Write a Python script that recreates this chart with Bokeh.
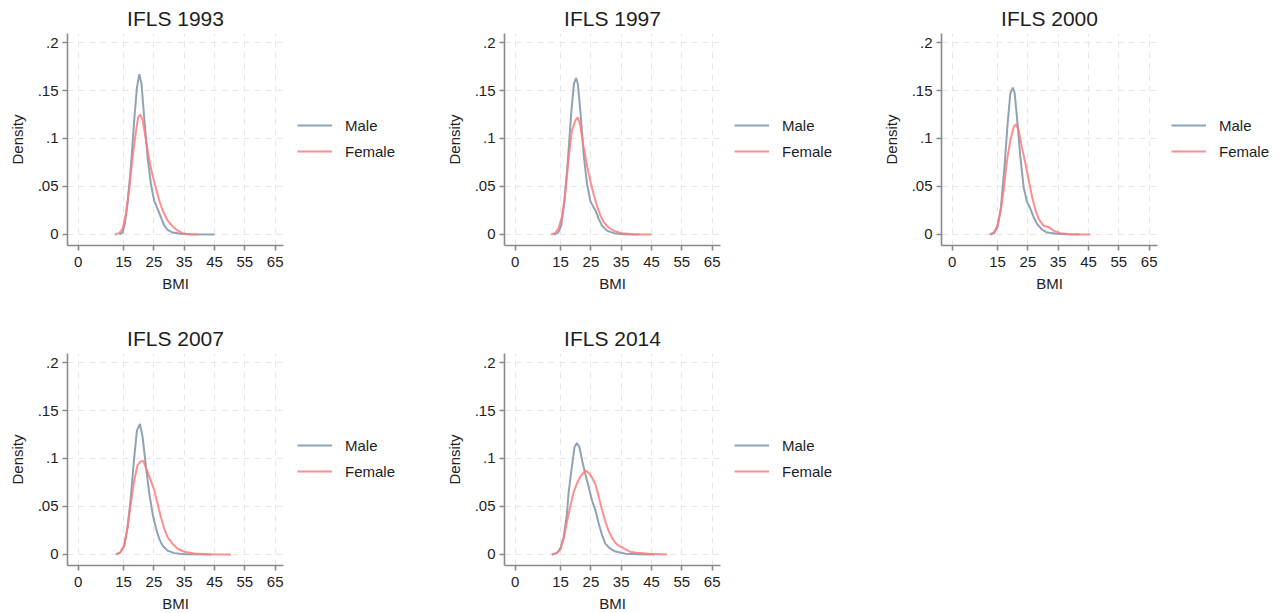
from bokeh.plotting import figure
from bokeh.layouts import row, column
from bokeh.models import FixedTicker, Legend, LegendItem, Range1d
from bokeh.embed import file_html
from bokeh.resources import INLINE

titles = ["IFLS 1993", "IFLS 1997", "IFLS 2000", "IFLS 2007", "IFLS 2014"]
series_names = ["Male", "Female"]
x_ticks = [0, 15, 25, 35, 45, 55, 65]
y_ticks = [0, 0.05, 0.1, 0.15, 0.2]
y_tick_labels = ["0", ".05", ".1", ".15", ".2"]

# ---- 1993 ----
bmi_male_1993 = [13.6, 14.7, 15.4, 16.3, 17.4, 18.5, 19.4, 20.2, 20.9, 21.8, 22.9, 24.0, 25.1, 26.2, 27.3, 28.4, 29.5, 31.2, 33.9, 37.2, 45.0]
dens_male_1993 = [0, 0.002, 0.011, 0.032, 0.070, 0.119, 0.153, 0.167, 0.157, 0.122, 0.081, 0.053, 0.035, 0.027, 0.018, 0.0094, 0.0049, 0.002, 0.0007, 0.0001, 0]
bmi_female_1993 = [12.1, 13.6, 14.7, 15.8, 16.9, 18.0, 19.1, 19.8, 20.5, 21.3, 22.4, 23.5, 24.6, 25.7, 26.8, 27.9, 29.5, 31.2, 32.8, 34.5, 36.1, 39.4]
dens_female_1993 = [0, 0.0014, 0.006, 0.022, 0.049, 0.081, 0.108, 0.122, 0.125, 0.119, 0.098, 0.077, 0.061, 0.048, 0.035, 0.025, 0.0146, 0.0083, 0.0042, 0.0014, 0.0003, 0]

# ---- 1997 ----
bmi_male_1997 = [12.7, 14.1, 15.2, 16.3, 17.4, 18.5, 19.4, 20.1, 20.7, 21.6, 22.6, 23.7, 24.8, 25.6, 26.5, 27.6, 28.7, 30.3, 32.5, 35.3, 41.0]
dens_male_1997 = [0, 0.0014, 0.009, 0.035, 0.077, 0.126, 0.157, 0.163, 0.157, 0.126, 0.084, 0.053, 0.035, 0.030, 0.025, 0.016, 0.009, 0.004, 0.0014, 0.0003, 0]
bmi_female_1997 = [11.9, 13.2, 14.3, 15.4, 16.5, 17.6, 18.7, 19.9, 20.7, 21.5, 22.6, 23.7, 24.8, 25.9, 27.0, 28.1, 29.2, 30.9, 33.1, 35.3, 38.6, 45.0]
dens_female_1997 = [0, 0.0014, 0.006, 0.018, 0.042, 0.077, 0.108, 0.119, 0.122, 0.114, 0.091, 0.072, 0.056, 0.042, 0.030, 0.020, 0.013, 0.007, 0.003, 0.0014, 0.0003, 0]

# ---- 2000 ----
bmi_male_2000 = [12.6, 13.9, 15.0, 16.1, 17.2, 18.3, 19.2, 20.0, 20.6, 21.4, 22.5, 23.6, 24.7, 25.8, 26.9, 28.0, 29.7, 31.3, 34.6, 37.9, 42.0]
dens_male_2000 = [0, 0.0014, 0.008, 0.028, 0.067, 0.115, 0.147, 0.153, 0.148, 0.122, 0.081, 0.049, 0.034, 0.027, 0.018, 0.011, 0.005, 0.002, 0.0007, 0.0001, 0]
bmi_female_2000 = [12.4, 13.7, 14.8, 15.9, 17.0, 18.1, 19.2, 20.3, 21.1, 22.0, 23.0, 24.2, 25.3, 26.4, 27.5, 28.6, 30.2, 31.9, 33.5, 35.7, 39.0, 45.6]
dens_female_2000 = [0, 0.002, 0.008, 0.022, 0.046, 0.077, 0.098, 0.112, 0.115, 0.108, 0.091, 0.074, 0.056, 0.039, 0.025, 0.016, 0.009, 0.0076, 0.004, 0.0014, 0.0003, 0]

# ---- 2007 ----
bmi_male_2007 = [12.5, 13.9, 15.2, 16.3, 17.4, 18.5, 19.4, 20.4, 21.3, 22.4, 23.5, 24.6, 25.7, 26.8, 27.9, 29.5, 31.7, 35.0, 38.3, 44.0]
dens_male_2007 = [0, 0.002, 0.009, 0.028, 0.060, 0.101, 0.129, 0.136, 0.122, 0.091, 0.063, 0.042, 0.027, 0.016, 0.009, 0.004, 0.0014, 0.0003, 0.0001, 0]
bmi_female_2007 = [12.5, 13.9, 15.2, 16.3, 17.4, 18.5, 19.6, 20.7, 21.6, 22.7, 24.0, 25.1, 26.2, 27.3, 28.4, 29.5, 31.2, 32.8, 35.0, 38.3, 42.7, 50.4]
dens_female_2007 = [0, 0.002, 0.009, 0.028, 0.053, 0.077, 0.093, 0.097, 0.097, 0.0875, 0.077, 0.067, 0.053, 0.039, 0.027, 0.018, 0.011, 0.006, 0.0028, 0.001, 0.0003, 0]

# ---- 2014 ----
bmi_male_2014 = [12.1, 13.8, 14.9, 16.0, 17.1, 17.6, 18.3, 19.1, 19.6, 20.4, 21.2, 22.1, 23.2, 24.3, 25.4, 26.5, 27.6, 28.7, 29.8, 31.4, 33.1, 36.4, 40.8, 46.0]
dens_male_2014 = [0, 0.0014, 0.006, 0.018, 0.042, 0.063, 0.081, 0.100, 0.112, 0.116, 0.112, 0.098, 0.083, 0.070, 0.056, 0.046, 0.032, 0.020, 0.011, 0.006, 0.003, 0.0007, 0.0001, 0]
bmi_female_2014 = [12.1, 13.8, 14.9, 16.0, 17.1, 18.2, 19.3, 20.4, 21.5, 23.2, 24.3, 25.4, 26.5, 27.6, 28.7, 29.8, 30.9, 32.0, 33.1, 34.2, 35.3, 36.6, 38.0, 40.8, 44.1, 50.2]
dens_female_2014 = [0, 0.0014, 0.005, 0.016, 0.034, 0.050, 0.065, 0.074, 0.081, 0.0875, 0.085, 0.080, 0.073, 0.060, 0.046, 0.034, 0.024, 0.017, 0.012, 0.009, 0.0073, 0.005, 0.0028, 0.0014, 0.0007, 0]

panels = [
    (bmi_male_1993, dens_male_1993, bmi_female_1993, dens_female_1993),
    (bmi_male_1997, dens_male_1997, bmi_female_1997, dens_female_1997),
    (bmi_male_2000, dens_male_2000, bmi_female_2000, dens_female_2000),
    (bmi_male_2007, dens_male_2007, bmi_female_2007, dens_female_2007),
    (bmi_male_2014, dens_male_2014, bmi_female_2014, dens_female_2014),
]

FONT = "Liberation Sans"
MALE_COLOR = "#8498ad"
FEMALE_COLOR = "#ff7b7b"
AXIS_COLOR = "#8a8a8a"
TEXT_COLOR = "#1e1e1e"
LINE_STYLES = [dict(line_color=MALE_COLOR, line_width=2, line_alpha=0.9),
               dict(line_color=FEMALE_COLOR, line_width=2, line_alpha=0.85)]

PLOT_RIGHT = 10          # border right of each plot frame
TOP, FRAME_H = 33, 212


def make_panel(i, bottom_border):
    xm, ym, xf, yf = panels[i]
    p = figure(frame_width=216, frame_height=FRAME_H,
               x_range=Range1d(-3.5, 67.75), y_range=Range1d(-0.0115, 0.2094),
               output_backend="svg", toolbar_location=None,
               min_border_left=67, min_border_right=PLOT_RIGHT,
               min_border_top=TOP, min_border_bottom=bottom_border)
    p.outline_line_color = None
    p.background_fill_color = "white"
    p.border_fill_color = "white"

    p.title.text = titles[i]
    p.title.align = "center"
    p.title.text_font = FONT
    p.title.text_font_size = "21px"
    p.title.text_font_style = "normal"
    p.title.text_color = TEXT_COLOR
    p.title.standoff = 7
    p.title.offset = 0

    p.xaxis.ticker = FixedTicker(ticks=x_ticks)
    p.yaxis.ticker = FixedTicker(ticks=y_ticks)
    p.yaxis.major_label_overrides = {t: l for t, l in zip(y_ticks, y_tick_labels)}
    p.xaxis.axis_label = "BMI"
    p.yaxis.axis_label = "Density"
    for ax in (p.xaxis, p.yaxis):
        ax.axis_line_color = AXIS_COLOR
        ax.axis_line_width = 1.6
        ax.major_tick_line_color = AXIS_COLOR
        ax.major_tick_line_width = 1.6
        ax.major_tick_out = 5
        ax.major_tick_in = 0
        ax.minor_tick_line_color = None
        ax.major_label_text_font = FONT
        ax.major_label_text_font_size = "15px"
        ax.major_label_text_color = TEXT_COLOR
        ax.axis_label_text_font = FONT
        ax.axis_label_text_font_size = "15px"
        ax.axis_label_text_font_style = "normal"
        ax.axis_label_text_color = TEXT_COLOR
    p.xaxis.major_label_standoff = 6
    p.xaxis.axis_label_standoff = 5
    p.yaxis.major_label_standoff = 4
    p.yaxis.axis_label_standoff = 9

    p.grid.grid_line_color = "#e6e6e6"
    p.grid.grid_line_dash = "6 5"
    p.grid.grid_line_width = 1

    p.line(xm, ym, **LINE_STYLES[0])
    p.line(xf, yf, **LINE_STYLES[1])
    return p


def make_legend(width, height, y_off):
    lf = figure(width=width, height=height, output_backend="svg",
                toolbar_location=None, x_axis_location=None, y_axis_location=None,
                min_border=0, x_range=Range1d(0, 1), y_range=Range1d(0, 1))
    lf.outline_line_color = None
    lf.grid.visible = False
    # swatch renderers: their points lie outside the visible range
    rends = [lf.line([-5, -4], [-5, -4], **LINE_STYLES[k]) for k in range(2)]
    legend = Legend(items=[LegendItem(label=series_names[k], renderers=[rends[k]])
                           for k in range(2)],
                    location=(4, y_off), orientation="vertical",
                    glyph_width=35, glyph_height=20, label_height=20,
                    label_standoff=13, spacing=6, padding=0, margin=0,
                    border_line_color=None, background_fill_alpha=0,
                    label_text_font=FONT, label_text_font_size="15px",
                    label_text_color=TEXT_COLOR)
    lf.add_layout(legend)
    return lf


H1 = TOP + FRAME_H + 75
H2 = TOP + FRAME_H + 44
PW = 67 + 216 + PLOT_RIGHT

p1 = make_panel(0, 75)
p2 = make_panel(1, 75)
p3 = make_panel(2, 75)
p4 = make_panel(3, 44)
p5 = make_panel(4, 44)

l1 = make_legend(437 - PW, H1, 84)
l2 = make_legend(437 - PW, H1, 84)
l3 = make_legend(112, H1, 84)
l4 = make_legend(437 - PW, H2, 79)
l5 = make_legend(437 - PW, H2, 79)

layout = column(row(p1, l1, p2, l2, p3, l3), row(p4, l4, p5, l5))

open("out.html", "w").write(file_html(layout, INLINE))
